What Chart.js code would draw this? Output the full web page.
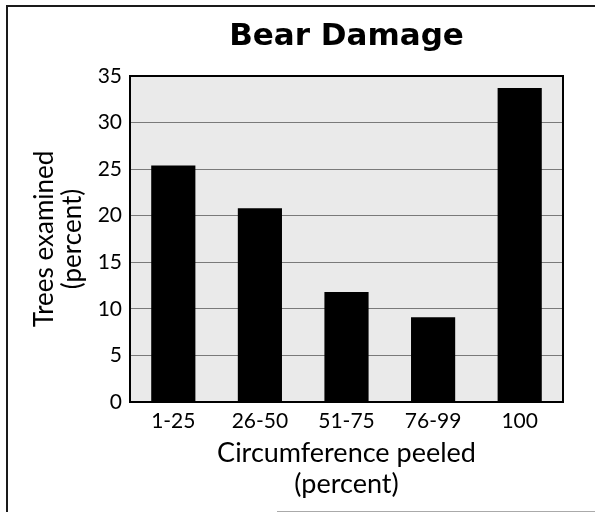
<!DOCTYPE html>
<html>
<head>
<meta charset="utf-8">
<script src="https://cdn.jsdelivr.net/npm/chart.js@4/dist/chart.umd.min.js"></script>
<style>
html,body{margin:0;padding:0;background:#fff;}
canvas{display:block;}
</style>
</head>
<body>
<canvas id="c" width="595" height="512"></canvas>
<script>
// ---- data ----
const categories = ['1-25', '26-50', '51-75', '76-99', '100'];
const treesExamined = [25.4, 20.8, 11.8, 9.1, 33.7];
const yTickMin = 0;
const yTickMax = 35;
const yTickStep = 5;
const chartTitle = 'Bear Damage';
const xTitle = ['Circumference peeled', '(percent)'];
const yTitle = ['Trees examined', '(percent)'];

const framePlugin = {
  id: 'frame',
  beforeDraw(chart) {
    const {ctx, chartArea: a} = chart;
    ctx.save();
    ctx.fillStyle = '#eaeaea';
    ctx.fillRect(a.left, a.top, a.right - a.left, a.bottom - a.top);
    // outer page frame
    ctx.strokeStyle = '#1a1a1a';
    ctx.lineWidth = 2;
    ctx.beginPath();
    ctx.moveTo(7, 512);
    ctx.lineTo(7, 6);
    ctx.lineTo(595, 6);
    ctx.stroke();
    ctx.strokeStyle = '#aaaaaa';
    ctx.lineWidth = 1;
    ctx.beginPath();
    ctx.moveTo(277, 511.5);
    ctx.lineTo(595, 511.5);
    ctx.stroke();
    ctx.restore();
  },
  afterDatasetsDraw(chart) {
    const {ctx, chartArea: a} = chart;
    ctx.save();
    ctx.strokeStyle = '#000';
    ctx.lineWidth = 2;
    ctx.strokeRect(a.left, a.top, a.right - a.left, a.bottom - a.top);
    ctx.restore();
  }
};

new Chart(document.getElementById('c'), {
  type: 'bar',
  data: {
    labels: categories,
    datasets: [{
      data: treesExamined,
      backgroundColor: '#000',
      borderWidth: 0,
      categoryPercentage: 1,
      barPercentage: 0.51
    }]
  },
  options: {
    responsive: false,
    devicePixelRatio: 1,
    animation: false,
    layout: {padding: {left: 10, right: 32, top: 0, bottom: 0}},
    plugins: {
      legend: {display: false},
      tooltip: {enabled: false},
      title: {
        display: true,
        text: chartTitle,
        fullSize: false,
        color: '#000',
        font: {family: 'DejaVu Sans', size: 31, weight: 'bold', lineHeight: 1.2},
        padding: {top: 18, bottom: 20.8}
      }
    },
    scales: {
      x: {
        grid: {display: false, drawTicks: false},
        border: {display: false},
        ticks: {color: '#000', padding: 7, font: {family: 'Lato', size: 21}},
        title: {
          display: true,
          text: xTitle,
          color: '#000',
          font: {family: 'Lato', size: 27, lineHeight: 1.15},
          padding: {top: 0, bottom: 12}
        },
        afterFit(s) { s.height = 110; }
      },
      y: {
        min: yTickMin,
        max: yTickMax,
        grid: {color: '#7a7a7a', lineWidth: 1, drawTicks: false},
        border: {display: false},
        ticks: {stepSize: yTickStep, color: '#000', padding: 8, font: {family: 'Lato', size: 21}},
        title: {
          display: true,
          text: yTitle,
          color: '#000',
          font: {family: 'Lato', size: 26, lineHeight: 1.1},
          padding: {top: 20, bottom: 0}
        },
        afterFit(s) { s.width = 120; }
      }
    }
  },
  plugins: [framePlugin]
});
</script>
</body>
</html>
